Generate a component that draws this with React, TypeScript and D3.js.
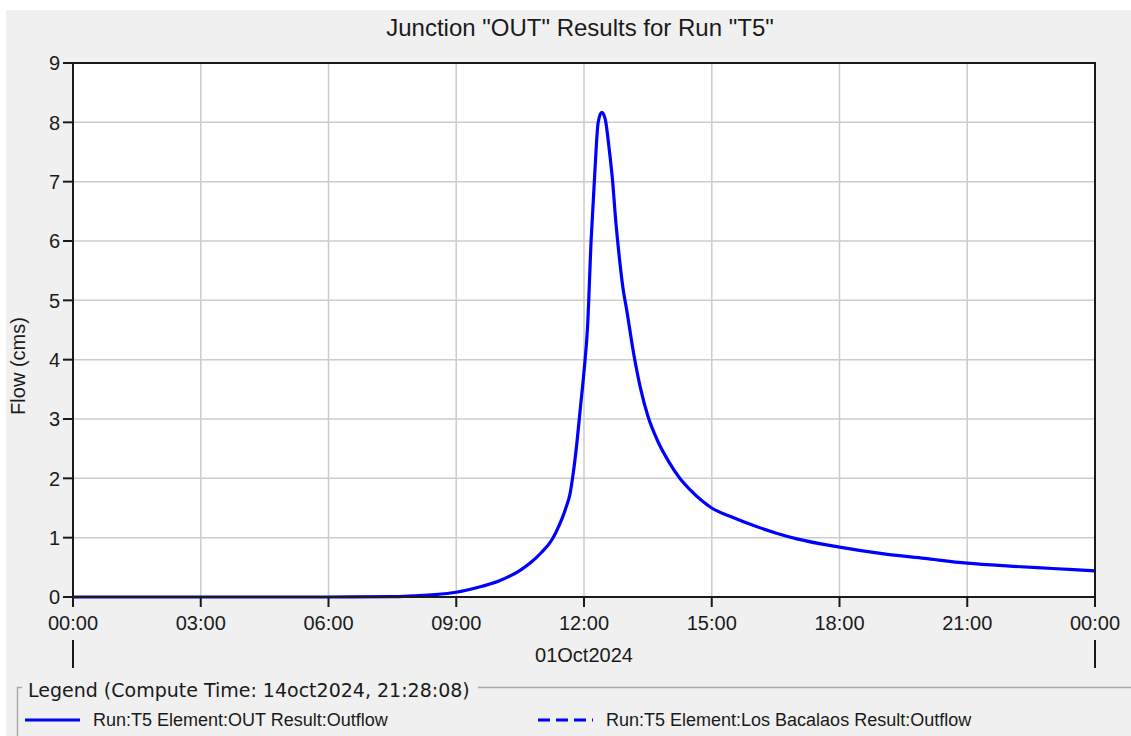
import React from "react";
import * as d3 from "d3";

const title = 'Junction "OUT" Results for Run "T5"';
const yLabel = "Flow (cms)";
const dateLabel = "01Oct2024";
const legendTitle = "Legend (Compute Time: 14oct2024, 21:28:08)";
const seriesNames = [
  "Run:T5 Element:OUT Result:Outflow",
  "Run:T5 Element:Los Bacalaos Result:Outflow",
];

// time stamps and outflow (cms)
const times = [
  "2024-10-01T00:00", "2024-10-01T06:00", "2024-10-01T07:30", "2024-10-01T08:00",
  "2024-10-01T08:30", "2024-10-01T09:00", "2024-10-01T09:30", "2024-10-01T10:00",
  "2024-10-01T10:30", "2024-10-01T10:45", "2024-10-01T11:00", "2024-10-01T11:15",
  "2024-10-01T11:20", "2024-10-01T11:30", "2024-10-01T11:35", "2024-10-01T11:40",
  "2024-10-01T11:45", "2024-10-01T11:50", "2024-10-01T11:55", "2024-10-01T12:00",
  "2024-10-01T12:05", "2024-10-01T12:10", "2024-10-01T12:15", "2024-10-01T12:20",
  "2024-10-01T12:25", "2024-10-01T12:30", "2024-10-01T12:35", "2024-10-01T12:40",
  "2024-10-01T12:45", "2024-10-01T12:50", "2024-10-01T12:55", "2024-10-01T13:00",
  "2024-10-01T13:10", "2024-10-01T13:20", "2024-10-01T13:30", "2024-10-01T13:45",
  "2024-10-01T14:00", "2024-10-01T14:15", "2024-10-01T14:30", "2024-10-01T15:00",
  "2024-10-01T15:30", "2024-10-01T16:00", "2024-10-01T16:30", "2024-10-01T17:00",
  "2024-10-01T18:00", "2024-10-01T19:00", "2024-10-01T20:00", "2024-10-01T21:00",
  "2024-10-01T22:00", "2024-10-01T23:00", "2024-10-02T00:00",
];
const outflow = [
  0, 0, 0.005, 0.02,
  0.04, 0.08, 0.16, 0.27,
  0.45, 0.58, 0.75, 0.97,
  1.08, 1.35, 1.52, 1.72,
  2.1, 2.6, 3.2, 3.8,
  4.55, 6.0, 7.1, 8.0,
  8.17, 8.05, 7.6, 7.05,
  6.3, 5.7, 5.2, 4.85,
  4.1, 3.5, 3.05, 2.6,
  2.27, 2.0, 1.8, 1.5,
  1.34, 1.2, 1.08, 0.98,
  0.84, 0.73, 0.65, 0.57,
  0.52, 0.48, 0.44,
];
const yTicks = [0, 1, 2, 3, 4, 5, 6, 7, 8, 9];

const W = 1131;
const H = 736;
const plot = { left: 73, right: 1095, top: 63, bottom: 597 };
const BLUE = "#0000ff";
const TXT = "#1a1a1a";
const SANS = "'Liberation Sans', Arial, sans-serif";

export default function App() {
  const parse = d3.timeParse("%Y-%m-%dT%H:%M");
  const data = times.map((t, i) => ({ t: parse(t) as Date, v: outflow[i] }));

  const x = d3
    .scaleTime()
    .domain([parse(times[0]) as Date, parse(times[times.length - 1]) as Date])
    .range([plot.left, plot.right]);
  const y = d3.scaleLinear().domain([0, 9]).range([plot.bottom, plot.top]);

  const xTicks = x.ticks(d3.timeHour.every(3) as d3.TimeInterval);
  const fmt = d3.timeFormat("%H:%M");

  const line = d3
    .line<{ t: Date; v: number }>()
    .x((d) => x(d.t))
    .y((d) => y(d.v))
    .curve(d3.curveMonotoneX);

  return (
    <svg
      width={W}
      height={H}
      style={{ position: "absolute", left: 0, top: 0 }}
    >
      <rect x={0} y={0} width={W} height={H} fill="#ffffff" />
      <rect x={6} y={10} width={W - 6} height={H - 10} fill="#f0f0f0" />

      <text
        x={580}
        y={36}
        textAnchor="middle"
        fontFamily={SANS}
        fontSize={24}
        fill={TXT}
      >
        {title}
      </text>

      {/* plot area */}
      <rect
        x={plot.left}
        y={plot.top}
        width={plot.right - plot.left}
        height={plot.bottom - plot.top}
        fill="#ffffff"
      />
      {xTicks.slice(1, -1).map((t, i) => (
        <line
          key={"gx" + i}
          x1={x(t)}
          x2={x(t)}
          y1={plot.top}
          y2={plot.bottom}
          stroke="#cccccc"
          strokeWidth={1.5}
        />
      ))}
      {yTicks.slice(1, -1).map((v) => (
        <line
          key={"gy" + v}
          x1={plot.left}
          x2={plot.right}
          y1={y(v)}
          y2={y(v)}
          stroke="#cccccc"
          strokeWidth={1.5}
        />
      ))}

      <path
        d={line(data) || ""}
        fill="none"
        stroke={BLUE}
        strokeWidth={3.2}
        strokeLinejoin="round"
      />

      <rect
        x={plot.left}
        y={plot.top}
        width={plot.right - plot.left}
        height={plot.bottom - plot.top}
        fill="none"
        stroke="#1a1a1a"
        strokeWidth={2}
      />

      {/* y axis */}
      {yTicks.map((v) => (
        <g key={"ty" + v}>
          <line
            x1={plot.left - 10}
            x2={plot.left}
            y1={y(v)}
            y2={y(v)}
            stroke="#1a1a1a"
            strokeWidth={2}
          />
          <text
            x={plot.left - 13}
            y={y(v)}
            dy="0.36em"
            textAnchor="end"
            fontFamily={SANS}
            fontSize={20}
            fill={TXT}
          >
            {v}
          </text>
        </g>
      ))}
      <text
        transform={`translate(25,${(plot.top + plot.bottom) / 2 + 36}) rotate(-90)`}
        textAnchor="middle"
        fontFamily={SANS}
        fontSize={20}
        fill={TXT}
      >
        {yLabel}
      </text>

      {/* x axis */}
      {xTicks.map((t, i) => (
        <g key={"tx" + i}>
          <line
            x1={x(t)}
            x2={x(t)}
            y1={plot.bottom}
            y2={plot.bottom + 10}
            stroke="#1a1a1a"
            strokeWidth={2}
          />
          <text
            x={x(t)}
            y={630}
            textAnchor="middle"
            fontFamily={SANS}
            fontSize={20}
            fill={TXT}
          >
            {fmt(t)}
          </text>
        </g>
      ))}
      {[xTicks[0], xTicks[xTicks.length - 1]].map((t, i) => (
        <line
          key={"dm" + i}
          x1={x(t)}
          x2={x(t)}
          y1={640}
          y2={668}
          stroke="#1a1a1a"
          strokeWidth={2}
        />
      ))}
      <text
        x={x(d3.timeHour.offset(xTicks[0], 12))}
        y={662}
        textAnchor="middle"
        fontFamily={SANS}
        fontSize={20}
        fill={TXT}
      >
        {dateLabel}
      </text>

      {/* legend */}
      <path
        d={`M22,687.5 H17.5 V${H} M478,687.5 H${W}`}
        fill="none"
        stroke="#a8a8a8"
        strokeWidth={1.5}
      />
      <text
        x={28}
        y={697}
        fontFamily="'DejaVu Sans', sans-serif"
        fontSize={19}
        fill={TXT}
      >
        {legendTitle}
      </text>
      <line x1={25} x2={80} y1={720} y2={720} stroke={BLUE} strokeWidth={3} />
      <text x={93} y={726} fontFamily={SANS} fontSize={18} fill={TXT}>
        {seriesNames[0]}
      </text>
      <line
        x1={538}
        x2={593}
        y1={720}
        y2={720}
        stroke={BLUE}
        strokeWidth={3}
        strokeDasharray="12 6"
      />
      <text x={606} y={726} fontFamily={SANS} fontSize={18} fill={TXT}>
        {seriesNames[1]}
      </text>
    </svg>
  );
}
